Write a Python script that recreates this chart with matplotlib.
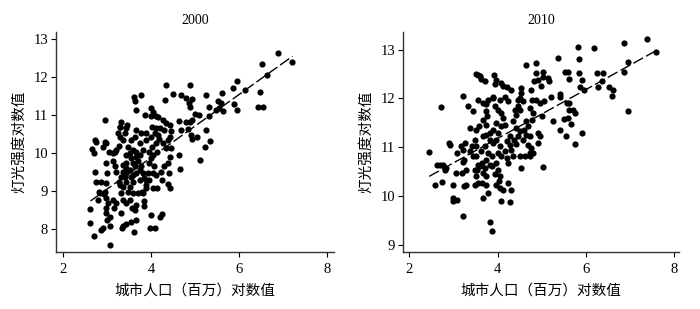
import matplotlib
matplotlib.use("Agg")
import matplotlib.pyplot as plt
import numpy as np

# ---------------- data ----------------
x2000 = [7.19,6.89,6.63,6.51,6.47,6.42,6.53,6.13,5.95,5.85,5.87,5.94,5.61,5.52,5.58,5.55,5.62,5.47,5.31,5.25,
         5.31,5.25,5.23,5.34,5.11,4.89,4.68,4.79,4.92,4.85,4.89,5.00,5.08,4.93,4.79,4.88,4.83,4.91,4.93,5.04,
         4.68,4.63,4.64,4.66,
         4.34,4.49,4.32,4.26,4.34,4.42,4.30,4.45,4.43,4.38,4.26,4.34,4.45,4.42,4.38,4.30,4.40,4.23,4.39,4.24,
         4.42,4.25,4.19,4.00,3.98,4.09,
         4.00,4.05,4.10,4.00,4.15,4.02,4.11,4.19,4.08,4.15,4.00,4.17,4.11,4.02,3.96,4.05,4.13,4.00,3.94,4.06,
         3.92,4.04,4.11,3.96,3.89,4.04,3.89,4.13,3.80,3.83,3.83,
         3.77,3.85,3.89,3.77,3.89,3.74,3.81,3.74,3.66,3.70,3.77,3.74,3.66,3.81,3.58,3.83,3.74,3.89,3.81,3.70,
         3.62,3.61,3.66,3.66,3.62,3.55,3.51,3.58,3.66,3.55,3.58,3.62,3.52,3.43,3.55,3.58,3.51,3.47,3.58,3.52,
         3.65,3.56,3.62,3.55,3.65,3.43,3.60,
         3.40,3.43,3.43,3.42,3.47,3.36,3.40,3.43,3.46,3.32,3.30,3.25,3.28,3.36,3.36,3.32,3.42,3.37,3.28,3.31,
         3.26,3.37,3.43,3.31,3.36,3.34,
         3.21,3.17,3.13,3.17,3.21,3.27,3.30,3.13,3.15,3.21,3.06,3.06,3.07,3.00,2.98,2.97,3.02,2.94,2.97,3.00,
         2.97,3.03,3.13,2.98,2.94,2.91,2.87,2.83,2.79,2.85,2.91,2.82,2.74,2.72,2.69,2.73,2.75,2.93,2.98,2.94,
         2.69,2.60,2.60,2.66]
y2000 = [12.40,12.64,12.06,12.35,11.62,11.22,11.22,11.67,11.90,11.72,11.28,11.13,11.58,11.38,11.33,11.20,11.11,11.13,11.22,11.53,
         10.99,10.61,10.15,10.33,9.81,11.78,11.53,11.44,11.42,11.33,11.22,11.03,11.00,10.87,10.83,10.82,10.63,10.48,10.36,10.43,
         10.61,10.85,9.95,9.58,
         11.80,11.56,11.39,10.87,10.78,10.74,10.61,10.57,10.43,10.35,10.26,10.13,10.13,9.91,9.73,9.65,9.47,9.51,9.19,9.30,
         9.08,8.39,8.33,8.38,8.04,8.03,
         11.18,11.09,10.99,10.99,10.96,10.69,10.65,10.65,10.52,10.48,10.43,10.36,10.26,10.17,10.04,9.95,10.04,9.87,9.73,9.66,
         9.47,9.47,9.43,9.30,9.16,9.09,9.08,9.08,8.99,8.73,8.60,
         11.53,11.00,10.52,10.52,10.35,10.26,10.08,9.95,9.91,9.78,9.65,9.56,9.47,9.47,9.43,9.34,9.30,9.30,8.95,8.95,
         11.38,11.49,11.13,10.61,10.43,10.35,10.00,10.08,10.04,9.87,9.73,9.65,9.56,9.47,9.38,9.25,9.12,8.99,8.95,8.77,
         8.64,8.55,8.51,8.20,8.25,8.14,7.93,
         9.38,9.60,9.73,9.95,10.17,10.35,10.52,10.65,10.74,10.83,10.68,10.54,10.43,9.69,9.51,9.38,9.23,9.12,9.16,8.95,
         9.25,8.77,8.68,8.42,8.09,8.04,
         9.51,9.65,9.78,10.04,10.08,10.19,10.69,8.77,8.55,8.68,8.33,8.07,7.59,8.25,8.42,8.81,8.68,8.99,9.21,9.47,
         9.73,10.04,10.00,10.26,10.30,10.17,9.25,8.95,8.77,7.98,8.03,8.99,9.25,9.51,10.00,10.35,10.30,8.92,8.55,10.87,
         7.81,8.15,8.53,10.10]

x2010 = [7.39,7.59,6.96,6.85,6.86,6.94,6.62,6.58,6.51,6.38,6.25,6.35,6.26,6.19,5.96,5.90,5.86,5.85,5.81,5.83,
         5.90,5.74,5.71,5.74,5.62,5.60,5.65,5.55,5.62,5.56,5.59,5.53,5.61,5.42,5.42,5.40,5.50,5.36,5.25,5.21,
         5.17,5.14,5.02,5.02,4.98,5.05,5.01,5.02,4.86,4.65,
         4.87,4.91,4.83,4.76,4.78,4.87,4.95,4.72,4.80,4.78,4.65,4.68,4.59,4.63,4.57,4.72,4.68,4.76,4.80,4.72,
         4.61,4.50,4.53,4.91,4.95,4.91,4.72,
         4.53,4.53,4.50,4.46,4.57,4.47,4.51,4.40,4.42,4.35,4.42,4.50,4.46,4.38,4.41,4.27,4.31,4.35,4.20,4.23,
         4.31,4.20,4.12,4.08,4.16,4.05,4.23,3.97,3.91,3.95,
         3.89,3.93,4.01,4.08,4.12,4.16,4.07,3.97,3.89,4.01,3.97,3.89,4.05,4.16,4.20,4.27,
         4.01,4.08,3.97,3.86,4.01,3.93,4.05,4.03,3.97,4.05,4.11,4.08,4.27,4.31,4.23,3.87,3.83,
         3.82,3.74,3.67,3.82,3.71,3.63,3.78,3.86,3.74,3.65,3.82,3.71,3.59,3.53,3.67,3.74,3.65,3.74,3.78,3.67,
         3.89,3.78,3.67,3.74,3.76,3.67,3.58,3.73,3.74,
         3.63,3.71,3.56,3.50,3.59,3.56,3.44,
         3.50,3.48,3.41,3.50,3.37,3.43,3.52,3.56,3.48,3.52,3.56,3.48,3.38,3.22,3.33,
         3.26,3.22,3.17,3.24,3.22,3.29,3.20,3.29,3.23,3.22,
         3.07,3.05,2.99,2.98,2.99,3.08,2.90,2.93,2.84,2.80,2.77,2.69,2.63,2.58,2.73,2.71,2.45]
y2010 = [13.23,12.95,12.74,13.14,12.54,11.74,12.18,12.06,12.23,12.52,12.52,12.35,12.23,13.03,12.17,12.38,12.23,12.52,13.05,12.81,
         11.30,11.07,11.77,11.70,11.77,11.60,11.48,11.22,11.91,11.91,12.54,12.54,12.41,12.10,12.03,11.36,11.58,12.84,11.53,12.04,
         12.36,12.43,12.45,12.54,12.26,11.95,11.63,10.59,12.73,12.69,
         12.52,12.38,12.36,12.18,11.97,11.97,11.91,11.80,11.70,11.56,11.53,11.43,11.36,11.26,11.15,11.22,11.05,10.98,10.88,10.81,
         10.81,10.81,10.57,11.29,11.22,11.09,10.88,
         12.21,12.11,12.01,11.97,11.94,11.85,11.77,11.77,11.67,11.53,11.39,11.33,11.22,11.15,11.07,11.05,10.95,10.81,10.78,10.68,
         12.17,12.23,12.26,12.32,12.04,11.97,11.94,12.38,12.49,12.30,
         12.01,11.84,11.77,11.70,11.60,11.46,11.43,11.50,11.36,11.29,11.15,11.09,11.02,10.92,11.12,11.22,
         10.88,10.81,10.68,10.61,10.54,10.44,10.40,10.30,10.23,10.16,10.13,9.89,9.87,10.13,10.27,9.27,9.46,
         11.29,11.24,11.22,11.15,11.02,10.92,10.88,10.81,10.74,10.68,10.64,10.57,10.61,10.54,10.47,10.40,10.27,10.23,10.06,9.96,
         12.03,11.97,11.91,11.74,11.65,11.56,11.43,11.46,11.89,
         12.40,12.35,12.49,12.51,12.47,11.97,11.74,
         11.36,11.15,11.02,11.02,10.92,10.81,10.81,10.64,10.54,10.40,10.27,10.23,11.39,12.05,11.84,
         11.09,10.95,11.02,10.74,10.69,10.54,10.47,10.23,10.21,9.58,
         10.88,10.47,10.23,9.96,9.89,9.92,11.09,11.05,10.57,10.54,10.64,10.64,10.64,10.23,10.29,11.83,10.90]

fit2000_x = [2.62, 7.21]
fit2000_y = [8.74, 12.55]
fit2010_x = [2.45, 7.60]
fit2010_y = [10.40, 12.99]

titles = ["2000", "2010"]
xticks = [2, 4, 6, 8]
yticks2000 = [8, 9, 10, 11, 12, 13]
yticks2010 = [9, 10, 11, 12, 13]
xlabel = "城市人口（百万）对数值"
ylabel = "灯光强度对数值"

# ---------------- plot ----------------
fam = ['Liberation Serif', 'Noto Sans CJK SC', 'DejaVu Sans']
plt.rcParams['font.family'] = fam

fig = plt.figure(figsize=(7.0, 3.09), dpi=100)
ax1 = fig.add_axes([0.0796, 0.1835, 0.398, 0.712])
ax2 = fig.add_axes([0.5753, 0.1835, 0.3951, 0.712])

panels = [
    (ax1, x2000, y2000, fit2000_x, fit2000_y, yticks2000, (1.83, 8.16), (7.39, 13.18), titles[0]),
    (ax2, x2010, y2010, fit2010_x, fit2010_y, yticks2010, (1.85, 8.11), (8.84, 13.36), titles[1]),
]

for ax, xs, ys, fx, fy, yt, xl, yl, t in panels:
    ax.scatter(xs, ys, s=20, color='black', linewidths=0, zorder=3)
    line, = ax.plot(fx, fy, color='black', lw=1.0, zorder=2)
    line.set_dashes([8, 2.5])
    ax.set_xlim(*xl)
    ax.set_ylim(*yl)
    ax.set_xticks(xticks)
    ax.set_yticks(yt)
    for s in ['top', 'right']:
        ax.spines[s].set_visible(False)
    for s in ['left', 'bottom']:
        ax.spines[s].set_linewidth(1.0)
        ax.spines[s].set_color('#333333')
    ax.tick_params(axis='both', direction='out', length=3.5, width=0.8,
                   colors='black', labelsize=10.5)
    ax.tick_params(axis='y', pad=2)
    ax.tick_params(axis='x', pad=4)
    ax.set_title(t, fontsize=10, pad=6)
    ax.set_xlabel(xlabel, fontsize=10.5, labelpad=6)
    ax.set_ylabel(ylabel, fontsize=10.5, labelpad=5)

fig.savefig("out.png", dpi=100)
